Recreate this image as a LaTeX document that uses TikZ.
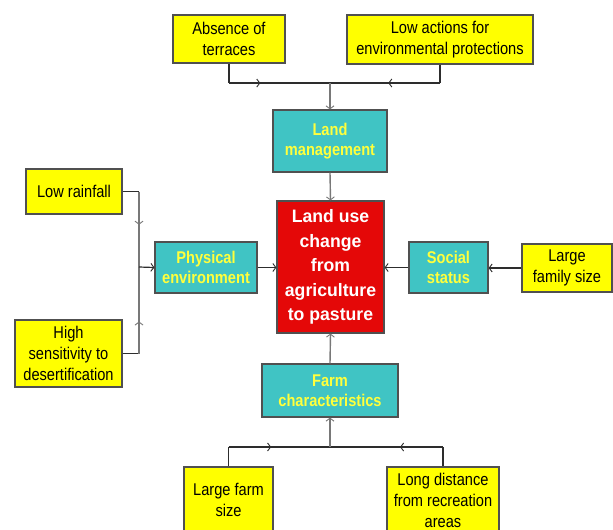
\documentclass[tikz,border=0pt]{standalone}
\usepackage{fontspec}
\setmainfont{Liberation Sans}[FakeStretch=0.86]
\newfontfamily\redfont{Liberation Sans}[FakeStretch=0.98]
\usetikzlibrary{arrows.meta,decorations.markings}
\definecolor{yel}{RGB}{255,255,0}
\definecolor{cya}{RGB}{64,196,196}
\definecolor{rd}{RGB}{228,8,8}
\definecolor{cytext}{RGB}{255,255,60}
\definecolor{bord}{RGB}{80,80,80}
\definecolor{ln}{RGB}{45,45,45}
\definecolor{lng}{RGB}{120,120,120}
\tikzset{
  basebox/.style={draw=bord,line width=1.2pt,inner sep=0pt,align=center},
  ybox/.style={basebox,fill=yel,text=black,font=\fontsize{17}{21}\selectfont},
  cbox/.style={basebox,fill=cya,text=cytext,font=\fontsize{17}{20}\selectfont\bfseries},
  rbox/.style={basebox,fill=rd,text=white,font=\redfont\fontsize{18}{24.5}\selectfont\bfseries},
  conn/.style={draw=ln,line width=1.2pt},
  conng/.style={draw=lng,line width=1.4pt},
  tip/.style={-{Straight Barb[length=3pt,width=8pt,line width=0.9pt]}},
  midarrow/.style={postaction={decorate,decoration={markings,
      mark=at position #1 with {\arrow{Straight Barb[length=3pt,width=8pt,line width=0.9pt]}}}}}
}
\begin{document}
\begin{tikzpicture}[x=1pt,y=-1pt]
\useasboundingbox (0,0) rectangle (613,530);
\clip (0,0) rectangle (613,530);
\fill[white] (0,0) rectangle (613,530);

% nodes
\node[ybox,minimum width=112pt,minimum height=48pt] (abs) at (229,39) {Absence of\\terraces};
\node[ybox,minimum width=186pt,minimum height=49pt] (low) at (440,39.5) {Low actions for\\environmental protections};
\node[cbox,minimum width=114pt,minimum height=62pt] (lm) at (330,141) {Land\\management};
\node[rbox,minimum width=107pt,minimum height=132pt] (red) at (330.5,267) {Land use\\change\\from\\agriculture\\to pasture};
\node[cbox,minimum width=79pt,minimum height=51pt] (soc) at (448.5,267.5) {Social\\status};
\node[ybox,minimum width=90pt,minimum height=48pt] (fam) at (567,268) {Large\\family size};
\node[ybox,minimum width=96pt,minimum height=45pt] (rain) at (74,191.5) {Low rainfall};
\node[ybox,minimum width=107pt,minimum height=67pt] (high) at (68.5,353.5) {High\\sensitivity to\\desertification};
\node[cbox,minimum width=102pt,minimum height=51pt] (phys) at (206,267.5) {Physical\\environment};
\node[cbox,minimum width=136pt,minimum height=53pt] (farm) at (330,390.5) {Farm\\characteristics};
\node[ybox,minimum width=89pt,minimum height=66pt,text depth=0pt] (lfs) at (228.5,500) {Large farm\\size};
\node[ybox,minimum width=112pt,minimum height=66pt] (long) at (443,500) {Long distance\\from recreation\\areas};

% junctions
\coordinate (jt) at (330,83);
\coordinate (jl) at (139,267);
\coordinate (jb) at (330,447);

% top group
\draw[conn] (abs.south) -- (abs.south |- jt);
\draw[conn,midarrow=0.31] (abs.south |- jt) -- (jt);
\draw[conn] (low.south) -- (low.south |- jt);
\draw[conn,midarrow=0.47] (low.south |- jt) -- (jt);
\draw[conng,tip] (jt) -- (lm.north);
\draw[conng,tip] (lm.south) -- (red.north);

% left group
\draw[conn] (rain.east) -- (rain.east -| jl);
\draw[conng,midarrow=0.44] (rain.east -| jl) -- (jl);
\draw[conn] (high.east) -- (high.east -| jl);
\draw[conng,midarrow=0.37] (high.east -| jl) -- (jl);
\draw[conn,tip] (jl) -- (phys.west);
\draw[conn,tip] (phys.east) -- (red.west |- phys.east);

% right group
\draw[conn,tip] (fam.west) -- (soc.east |- fam.west);
\draw[conn,tip] (soc.west) -- (red.east |- soc.west);

% bottom group
\draw[conn] (lfs.north) -- (lfs.north |- jb);
\draw[conn,midarrow=0.42] (lfs.north |- jb) -- (jb);
\draw[conn] (long.north) -- (long.north |- jb);
\draw[conn,midarrow=0.38] (long.north |- jb) -- (jb);
\draw[conng,tip] (jb) -- (farm.south);
\draw[conng,tip] (farm.north) -- (red.south);
\end{tikzpicture}
\end{document}
